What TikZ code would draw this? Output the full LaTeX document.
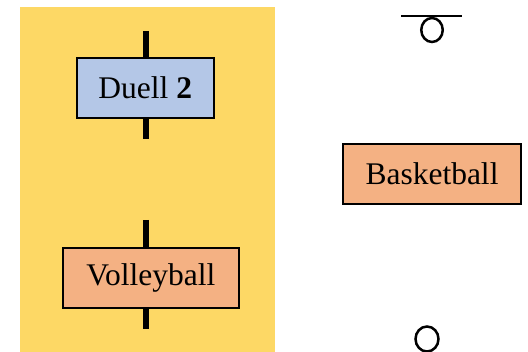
\documentclass[tikz,border=0pt]{standalone}
\usepackage{fontspec}
\setmainfont{Liberation Serif}
\usetikzlibrary{shapes.geometric}
\definecolor{bgyellow}{HTML}{FDD865}
\definecolor{boxblue}{HTML}{B4C7E7}
\definecolor{boxorange}{HTML}{F4B183}
\begin{document}
\begin{tikzpicture}[x=1pt,y=-1pt,
  box/.style={draw=black,line width=2pt,minimum height=60pt,inner sep=0pt,
    font=\fontsize{31.5}{36}\selectfont},
  stub/.style={line width=6pt,black},
  sym/.style={line width=2.5pt,black}]
\useasboundingbox (0,0) rectangle (528,352);
\fill[bgyellow] (20,7) rectangle (275,352);
\node[box,fill=boxblue,minimum width=137pt] (duell) at (145.2,88) {Duell \textbf{2}};
\node[box,fill=boxorange,minimum width=176pt] (volley) at (150.8,278) {Volleyball};
\node[box,fill=boxorange,minimum width=178pt] (basket) at (432,174) {Basketball};
\coordinate (d1) at (146.3,31);
\coordinate (d2) at (146.3,139);
\coordinate (v1) at (146.3,220);
\coordinate (v2) at (146.3,329);
\draw[stub] (d1) -- (duell.north -| d1);
\draw[stub] (duell.south -| d2) -- (d2);
\draw[stub] (v1) -- (volley.north -| v1);
\draw[stub] (volley.south -| v2) -- (v2);
\coordinate (tl) at (401,16);
\coordinate (tr) at (462,16);
\draw[sym] (tl) -- (tr);
\node[sym,draw,ellipse,minimum width=21.5pt,minimum height=24pt,inner sep=0pt] (topc) at (432,30) {};
\node[sym,draw,ellipse,minimum width=23pt,minimum height=25pt,inner sep=0pt] (botc) at (427,339) {};
\coordinate (bl) at (395,353);
\coordinate (br) at (457,353);
\draw[line width=1pt,black!30] (bl) -- (br);
\end{tikzpicture}
\end{document}
